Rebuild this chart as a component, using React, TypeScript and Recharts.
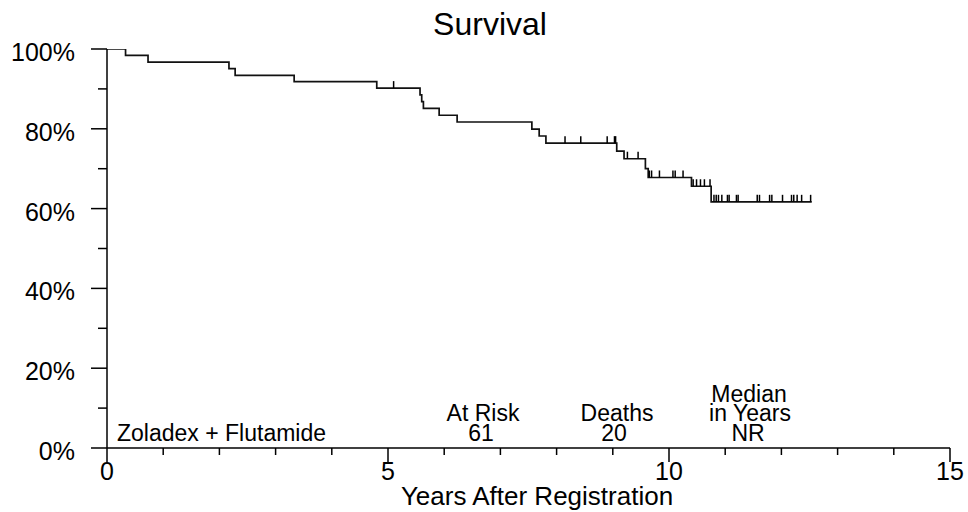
import { ComposedChart, Line, Scatter, XAxis, YAxis } from "recharts"

// Kaplan-Meier steps (years, survival %)
const stepYears = [0, 0.33, 0.73, 2.17, 2.28, 3.33, 4.8, 5.57, 5.6, 5.63, 5.91, 6.23, 7.56, 7.69, 7.81, 9.07, 9.2, 9.58, 9.63, 10.4, 10.75, 12.54]
const stepSurvival = [100, 98.4, 96.7, 95.1, 93.4, 91.8, 90.2, 88.5, 86.8, 85.1, 83.4, 81.7, 79.9, 78.2, 76.4, 74.4, 72.5, 70.0, 67.8, 65.6, 61.7, 61.7]

// censored patients (years)
const censorYears = [
	5.1, 8.15, 8.43, 8.9, 9.03, 9.05, 9.26, 9.45, 9.65, 9.69, 9.83, 10.07, 10.11, 10.25,
	10.43, 10.49, 10.56, 10.63, 10.73, 10.8, 10.84, 10.88, 10.94, 11.04, 11.07, 11.2, 11.23,
	11.57, 11.61, 11.79, 11.83, 12.02, 12.18, 12.22, 12.28, 12.36, 12.52,
]

const yearTicks = [0, 1, 2, 3, 4, 5, 6, 7, 8, 9, 10, 11, 12, 13, 14, 15]
const pctTicks = [0, 10, 20, 30, 40, 50, 60, 70, 80, 90, 100]

const font = "'Liberation Sans', Arial, sans-serif"

const levelAt = (t: number) => {
	let s = stepSurvival[0]
	stepYears.forEach((y, i) => {
		if (y <= t) s = stepSurvival[i]
	})
	return s
}

const curve = stepYears.map((t, i) => ({ t, s: stepSurvival[i] }))
const censors = censorYears.map((t) => ({ t, s: levelAt(t) }))

function YearTick({ x, y, payload }: any) {
	const major = payload.value % 5 === 0
	return (
		<g>
			<line x1={x} y1={y} x2={x} y2={y + (major ? 14 : 7)} stroke="#000" strokeWidth={1.5} />
			{major && (
				<text x={x} y={y + 32} textAnchor="middle" fontSize={25} fill="#000" fontFamily={font}>
					{payload.value}
				</text>
			)}
		</g>
	)
}

function PctTick({ x, y, payload }: any) {
	const major = payload.value % 20 === 0
	return (
		<g>
			<line x1={x - (major ? 16 : 9)} y1={y} x2={x} y2={y} stroke="#000" strokeWidth={1.5} />
			{major && (
				<text x={x - 32} y={y + 12} textAnchor="end" fontSize={25} fill="#000" fontFamily={font}>
					{payload.value}%
				</text>
			)}
		</g>
	)
}

const CensorMark = (props: any) => (
	<line x1={props.cx} y1={props.cy} x2={props.cx} y2={props.cy - 7} stroke="#000" strokeWidth={1.5} />
)

export default function App() {
	const txt = { fontFamily: font, fill: "#000" }
	return (
		<div style={{ position: "absolute", left: 0, top: 0, background: "#fff" }}>
			<ComposedChart width={968} height={512} margin={{ top: 49, right: 18, left: 0, bottom: 0 }} style={{ fontFamily: font }}>
				<XAxis
					type="number"
					dataKey="t"
					domain={[0, 15]}
					ticks={yearTicks}
					interval={0}
					tickSize={0}
					tickMargin={0}
					tickLine={false}
					tick={YearTick}
					height={64}
					axisLine={{ stroke: "#000", strokeWidth: 1.5 }}
					allowDataOverflow
				/>
				<YAxis
					type="number"
					domain={[0, 100]}
					ticks={pctTicks}
					interval={0}
					tickSize={0}
					tickMargin={0}
					tickLine={false}
					tick={PctTick}
					width={107}
					axisLine={{ stroke: "#000", strokeWidth: 1.5 }}
					allowDataOverflow
				/>
				<Line
					data={curve}
					dataKey="s"
					type="stepAfter"
					stroke="#111"
					strokeWidth={1.7}
					dot={false}
					activeDot={false}
					isAnimationActive={false}
				/>
				<Scatter data={censors} dataKey="s" shape={CensorMark} isAnimationActive={false} />

				<text x={490} y={35} textAnchor="middle" fontSize={32} {...txt}>Survival</text>
				<text x={537} y={505} textAnchor="middle" fontSize={26} {...txt}>Years After Registration</text>

				<text x={117} y={441} fontSize={23} {...txt}>Zoladex + Flutamide</text>
				<text x={483} y={421} textAnchor="middle" fontSize={23} {...txt}>At Risk</text>
				<text x={481} y={441} textAnchor="middle" fontSize={23} {...txt}>61</text>
				<text x={617} y={421} textAnchor="middle" fontSize={23} {...txt}>Deaths</text>
				<text x={614} y={441} textAnchor="middle" fontSize={23} {...txt}>20</text>
				<text x={749} y={402} textAnchor="middle" fontSize={23} {...txt}>Median</text>
				<text x={750} y={421} textAnchor="middle" fontSize={23} {...txt}>in Years</text>
				<text x={748} y={441} textAnchor="middle" fontSize={23} {...txt}>NR</text>
			</ComposedChart>
		</div>
	)
}
